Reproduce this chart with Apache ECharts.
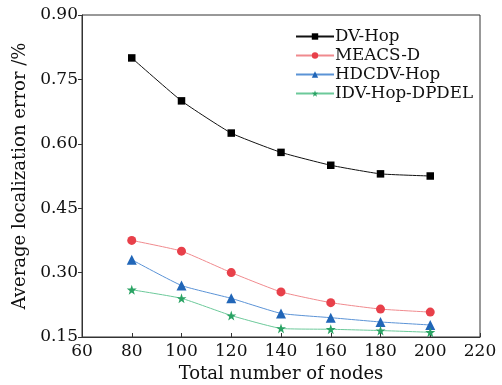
<!DOCTYPE html>
<html><head><meta charset="utf-8">
<script src="https://cdn.jsdelivr.net/npm/echarts@6/dist/echarts.min.js"></script>
<style>html,body{margin:0;padding:0;background:#fff}#c{width:502px;height:385px}</style>
</head><body><div id="c"></div>
<script>
const nodes = [80, 100, 120, 140, 160, 180, 200];
const dvHop = [0.80, 0.70, 0.625, 0.58, 0.55, 0.53, 0.525];
const meacsD = [0.375, 0.35, 0.30, 0.255, 0.23, 0.215, 0.208];
const hdcdvHop = [0.33, 0.27, 0.24, 0.205, 0.195, 0.185, 0.178];
const idvHopDpdel = [0.26, 0.24, 0.20, 0.17, 0.168, 0.165, 0.161];
const seriesNames = ['DV-Hop', 'MEACS-D', 'HDCDV-Hop', 'IDV-Hop-DPDEL'];
const yTicks = [0.15, 0.30, 0.45, 0.60, 0.75, 0.90];

const FONT = 'DejaVu Serif';
const star = 'path://M50,0 L61.8,35.1 L98.1,35.1 L68.8,56.7 L79.4,91.3 L50,70 L20.6,91.3 L31.2,56.7 L1.9,35.1 L38.2,35.1 Z';
const styles = [
  {line:'#111', mark:'#000', symbol:'rect', size:7.5},
  {line:'#f08a8e', mark:'#e8404a', symbol:'circle', size:9},
  {line:'#5b93d6', mark:'#2166b8', symbol:'triangle', size:10},
  {line:'#6cc99a', mark:'#2aa364', symbol:star, size:10}
];
const data = [dvHop, meacsD, hdcdvHop, idvHopDpdel];

const chart = echarts.init(document.getElementById('c'));
chart.setOption({
  animation:false,
  grid:{left:82, right:22, top:15, bottom:48, show:true, borderColor:'#333', borderWidth:1, outerBoundsMode:'none', containLabel:false},
  legend:{
    left:290, top:23, orient:'vertical', itemGap:2, itemWidth:38, itemHeight:8,
    textStyle:{fontFamily:FONT, fontSize:16.7, color:'#111', padding:[0,0,0,-4]},
    data:seriesNames
  },
  xAxis:{
    type:'value', min:60, max:220, interval:20,
    name:'Total number of nodes', nameLocation:'middle', nameGap:28,
    nameTextStyle:{fontFamily:FONT, fontSize:18, color:'#111'},
    axisLine:{lineStyle:{color:'#333', width:1}},
    axisTick:{inside:true, length:4, lineStyle:{color:'#333'}},
    axisLabel:{fontFamily:FONT, fontSize:17, color:'#111', margin:6},
    splitLine:{show:false}
  },
  yAxis:{
    type:'value', min:0.15, max:0.90, interval:0.15,
    name:'Average localization error /%', nameLocation:'middle', nameGap:46,
    nameTextStyle:{fontFamily:FONT, fontSize:18, color:'#111'},
    axisLine:{lineStyle:{color:'#333', width:1}},
    axisTick:{inside:false, length:4, lineStyle:{color:'#333'}},
    axisLabel:{fontFamily:FONT, fontSize:17, color:'#111', margin:4, formatter:v=>v.toFixed(2)},
    splitLine:{show:false}
  },
  series: seriesNames.map((n,i)=>({
    name:n, type:'line', smooth:0.15,
    data: nodes.map((x,j)=>[x, data[i][j]]),
    symbol: styles[i].symbol, symbolSize: styles[i].size,
    lineStyle:{color:styles[i].line, width:1},
    itemStyle:{color:styles[i].mark, borderWidth:0}
  }))
});
</script></body></html>
